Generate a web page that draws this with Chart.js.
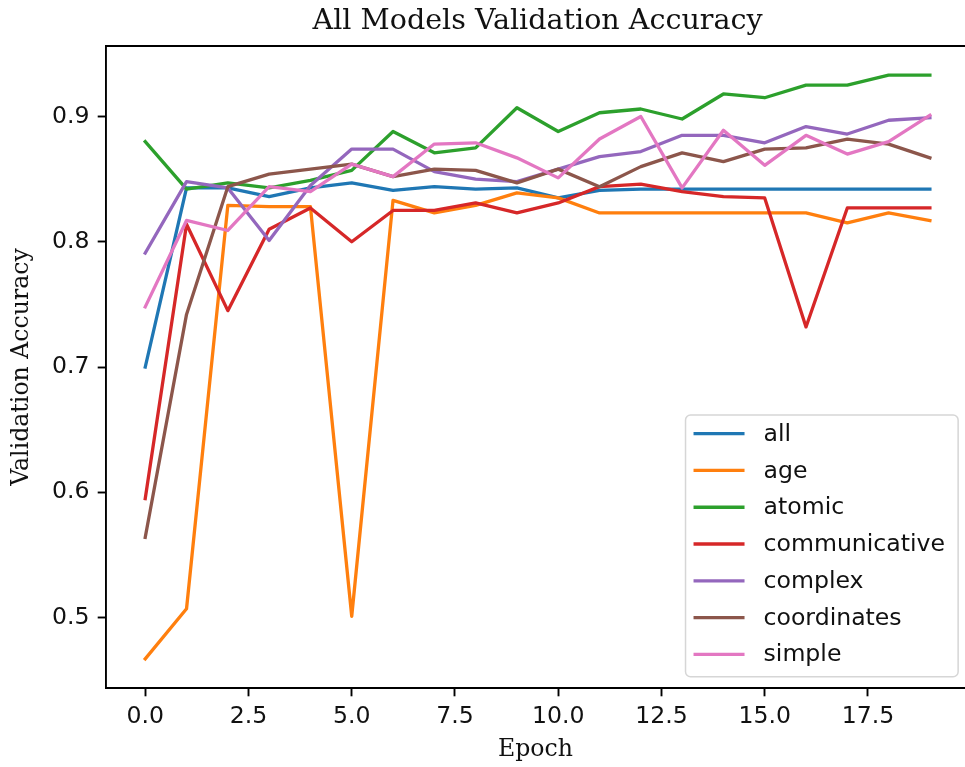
<!DOCTYPE html>
<html>
<head>
<meta charset="utf-8">
<title>All Models Validation Accuracy</title>
<script src="https://cdn.jsdelivr.net/npm/chart.js@4/dist/chart.umd.min.js"></script>
<style>
  html, body { margin: 0; padding: 0; background: #fff; overflow: hidden; }
  canvas { display: block; }
</style>
</head>
<body>
<canvas id="chart" width="965" height="767"></canvas>
<script>
// Validation accuracy per epoch for each model variant
const epochs = [0, 1, 2, 3, 4, 5, 6, 7, 8, 9, 10, 11, 12, 13, 14, 15, 16, 17, 18, 19];

const allAcc           = [0.700, 0.843, 0.843, 0.836, 0.843, 0.847, 0.841, 0.844, 0.842, 0.843, 0.835, 0.841, 0.842, 0.842, 0.842, 0.842, 0.842, 0.842, 0.842, 0.842];
const ageAcc           = [0.467, 0.507, 0.829, 0.828, 0.828, 0.501, 0.833, 0.823, 0.829, 0.839, 0.835, 0.823, 0.823, 0.823, 0.823, 0.823, 0.823, 0.815, 0.823, 0.817];
const atomicAcc        = [0.880, 0.842, 0.847, 0.843, 0.849, 0.857, 0.888, 0.871, 0.875, 0.907, 0.888, 0.903, 0.906, 0.898, 0.918, 0.915, 0.925, 0.925, 0.933, 0.933];
const communicativeAcc = [0.595, 0.814, 0.745, 0.810, 0.827, 0.800, 0.825, 0.825, 0.831, 0.823, 0.831, 0.844, 0.846, 0.840, 0.836, 0.835, 0.732, 0.827, 0.827, 0.827];
const complexAcc       = [0.791, 0.848, 0.843, 0.801, 0.845, 0.874, 0.874, 0.856, 0.850, 0.848, 0.858, 0.868, 0.872, 0.885, 0.885, 0.879, 0.892, 0.886, 0.897, 0.899];
const coordinatesAcc   = [0.564, 0.742, 0.844, 0.854, 0.858, 0.862, 0.852, 0.858, 0.857, 0.847, 0.858, 0.844, 0.860, 0.871, 0.864, 0.874, 0.875, 0.882, 0.878, 0.867];
const simpleAcc        = [0.748, 0.817, 0.809, 0.844, 0.840, 0.862, 0.852, 0.878, 0.879, 0.867, 0.851, 0.882, 0.900, 0.843, 0.889, 0.861, 0.885, 0.870, 0.880, 0.901];

const seriesNames = ['all', 'age', 'atomic', 'communicative', 'complex', 'coordinates', 'simple'];
const seriesValues = [allAcc, ageAcc, atomicAcc, communicativeAcc, complexAcc, coordinatesAcc, simpleAcc];
const seriesColors = ['#1f77b4', '#ff7f0e', '#2ca02c', '#d62728', '#9467bd', '#8c564b', '#e377c2'];

const xTicks = [0, 2.5, 5, 7.5, 10, 12.5, 15, 17.5];
const yTicks = [0.5, 0.6, 0.7, 0.8, 0.9];

const titleText = 'All Models Validation Accuracy';
const xLabel = 'Epoch';
const yLabel = 'Validation Accuracy';

// visible x range: the axes box runs a little past the right edge of the canvas
const xMin = -0.95, xMax = 19.85;
const xFullMax = 19.95;        // right end of the full axes box
const allVals = seriesValues.flat();
const yLo = Math.min(...allVals), yHi = Math.max(...allVals);
const yPad = (yHi - yLo) * 0.05;

const FS = 23.6;               // base font size (px)
const SANS = "'DejaVu Sans', sans-serif";
const SERIF = "'DejaVu Serif', serif";
const INK = '#111';

const datasets = seriesNames.map((name, i) => ({
  label: name,
  data: seriesValues[i],
  borderColor: seriesColors[i],
  backgroundColor: seriesColors[i],
  borderWidth: 3.3,
  borderJoinStyle: 'round',
  borderCapStyle: 'square',
  pointRadius: 0,
  pointHoverRadius: 0,
  tension: 0,
  fill: false,
  order: seriesNames.length - i   // later series drawn on top
}));

// title, top spine and boxed legend inside the plot area
const decorations = {
  id: 'decorations',
  afterDraw(chart) {
    const { ctx, chartArea: a } = chart;
    const xs = chart.scales.x;
    const fullRight = xs.getPixelForValue(xFullMax);
    ctx.save();

    // keep the open right side of the axes box clean
    ctx.fillStyle = '#fff';
    ctx.fillRect(a.right - 3, a.top + 1, 3, a.bottom - a.top - 2);

    // top spine
    ctx.strokeStyle = '#000';
    ctx.lineWidth = 1.9;
    ctx.beginPath();
    ctx.moveTo(a.left - 0.95, a.top);
    ctx.lineTo(chart.width, a.top);
    ctx.stroke();

    // title, centered over the full axes box
    ctx.fillStyle = INK;
    ctx.font = `${FS * 1.21}px ${SERIF}`;
    ctx.textAlign = 'center';
    ctx.textBaseline = 'alphabetic';
    ctx.fillText(titleText, (a.left + fullRight) / 2, 29);

    // legend
    const rowH = 36.77;
    const boxW = 272.6, boxH = 261.7;
    const bx = fullRight - 11 - boxW;
    const by = a.bottom - 11.3 - boxH;
    const r = 5;
    ctx.beginPath();
    ctx.moveTo(bx + r, by);
    ctx.arcTo(bx + boxW, by, bx + boxW, by + boxH, r);
    ctx.arcTo(bx + boxW, by + boxH, bx, by + boxH, r);
    ctx.arcTo(bx, by + boxH, bx, by, r);
    ctx.arcTo(bx, by, bx + boxW, by, r);
    ctx.closePath();
    ctx.fillStyle = 'rgba(255,255,255,0.8)';
    ctx.fill();
    ctx.strokeStyle = '#d6d6d6';
    ctx.lineWidth = 1.5;
    ctx.stroke();

    ctx.font = `${FS}px ${SANS}`;
    ctx.textAlign = 'left';
    ctx.textBaseline = 'middle';
    chart.data.datasets.forEach((ds, i) => {
      const cy = by + 18.7 + i * rowH;
      ctx.strokeStyle = ds.borderColor;
      ctx.lineWidth = 3.3;
      ctx.lineCap = 'butt';
      ctx.beginPath();
      ctx.moveTo(bx + 8, cy);
      ctx.lineTo(bx + 59, cy);
      ctx.stroke();
      ctx.fillStyle = INK;
      ctx.fillText(ds.label, bx + 78, cy + 1);
    });

    ctx.restore();
  }
};

new Chart(document.getElementById('chart'), {
  type: 'line',
  data: { labels: epochs, datasets },
  plugins: [decorations],
  options: {
    responsive: false,
    animation: false,
    devicePixelRatio: 1,
    layout: { padding: { top: 46, right: 0, left: 0, bottom: 0 } },
    plugins: {
      legend: { display: false },
      title: { display: false },
      tooltip: { enabled: false }
    },
    scales: {
      x: {
        type: 'linear',
        min: xMin,
        max: xMax,
        afterBuildTicks: s => { s.ticks = xTicks.map(v => ({ value: v })); },
        afterFit: s => { s.height = 79; },
        grid: {
          drawOnChartArea: false,
          drawTicks: true,
          tickLength: 8.3,
          tickWidth: 1.9,
          tickColor: '#000'
        },
        border: { display: true, color: '#000', width: 1.9 },
        ticks: {
          padding: 6,
          maxRotation: 0,
          autoSkip: false,
          color: INK,
          font: { family: SANS, size: FS },
          callback: v => Number(v).toFixed(1)
        },
        title: {
          display: true,
          text: xLabel,
          color: INK,
          font: { family: SERIF, size: FS },
          padding: { top: 0, bottom: 3 }
        }
      },
      y: {
        type: 'linear',
        min: yLo - yPad,
        max: yHi + yPad,
        afterBuildTicks: s => { s.ticks = yTicks.map(v => ({ value: v })); },
        afterFit: s => { s.width = 106; },
        grid: {
          drawOnChartArea: false,
          drawTicks: true,
          tickLength: 8.3,
          tickWidth: 1.9,
          tickColor: '#000'
        },
        border: { display: true, color: '#000', width: 1.9 },
        ticks: {
          padding: 8.3,
          autoSkip: false,
          color: INK,
          font: { family: SANS, size: FS },
          callback: v => Number(v).toFixed(1)
        },
        title: {
          display: true,
          text: yLabel,
          color: INK,
          font: { family: SERIF, size: FS },
          padding: { top: 8, bottom: 0 }
        }
      }
    }
  }
});
</script>
</body>
</html>
